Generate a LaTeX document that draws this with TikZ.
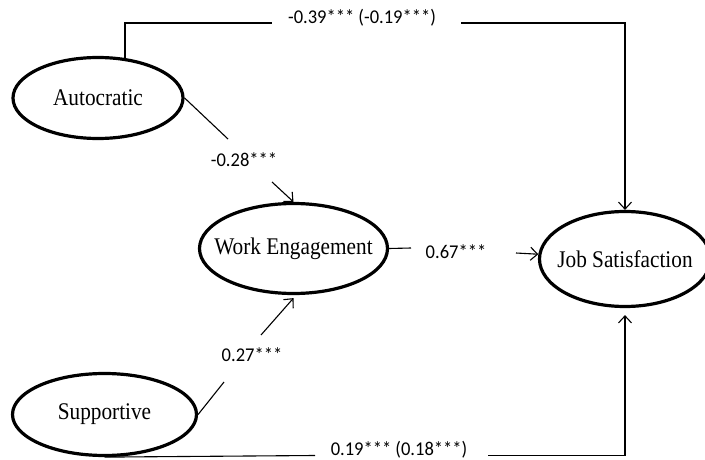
\documentclass[tikz,border=0pt]{standalone}
\usepackage{fontspec}
\setmainfont[FakeStretch=0.89]{Liberation Serif}
\newfontfamily\numfont[FakeStretch=0.95]{Carlito}
\usetikzlibrary{shapes.geometric,arrows.meta}
\begin{document}
\begin{tikzpicture}[x=1pt,y=-1pt,
  latent/.style={ellipse,draw,line width=3.2pt,inner sep=0pt,
    font=\fontsize{23.9}{26}\selectfont},
  coef/.style={font=\numfont\fontsize{19.5}{22}\selectfont,inner sep=0pt},
  link/.style={line width=1.1pt},
  arr/.style={link,-{Straight Barb[length=7pt,width=13pt]}}]
\useasboundingbox (0,0) rectangle (705,460);
% latent variables
\node[latent,minimum width=170pt,minimum height=81pt] (auto) at (98,98) {\makebox[0pt]{Autocratic}};
\node[latent,minimum width=188pt,minimum height=90pt] (we) at (293.5,248.5) {\makebox[0pt]{Work Engagement}};
\node[latent,minimum width=184pt,minimum height=82pt] (sup) at (104.5,414.5) {\makebox[0pt]{Supportive}};
\node[latent,minimum width=171pt,minimum height=95pt] (js) at (625,259) {\makebox[0pt]{Job Satisfaction}};
% coefficient labels
\node[coef] (l39) at (362,18) {-0.39*** (-0.19***)};
\node[coef] (l28) at (244,160) {-0.28***};
\node[coef] (l67) at (456,252) {0.67***};
\node[coef] (l27) at (252,355) {0.27***};
\node[coef] (l19) at (399,450) {0.19*** (0.18***)};
% connector break points
\coordinate (t1) at (272,23);
\coordinate (t2) at (461,23);
\coordinate (a1) at (228,139);
\coordinate (a2) at (272,182);
\coordinate (w1) at (411,248);
\coordinate (w2) at (516,253);
\coordinate (s1) at (224,382);
\coordinate (s2) at (261,335);
\coordinate (b1) at (315,455.5);
\coordinate (b2) at (488,455.5);
% connectors
\draw[link] (auto.56) |- (t1);
\draw[arr] (t2) -| (js.north);
\draw[link] (auto.east) -- (a1);
\draw[arr] (a2) -- (we.north);
\draw[link] (we.east) -- (w1);
\draw[arr] (w2) -- (js);
\draw[link] (sup.east) -- (s1);
\draw[arr] (s2) -- ([yshift=-3pt]we.south);
\draw[link] (sup.south) -- (b1);
\draw[arr] (b2) -| ([yshift=-7pt]js.south);
\end{tikzpicture}
\end{document}
